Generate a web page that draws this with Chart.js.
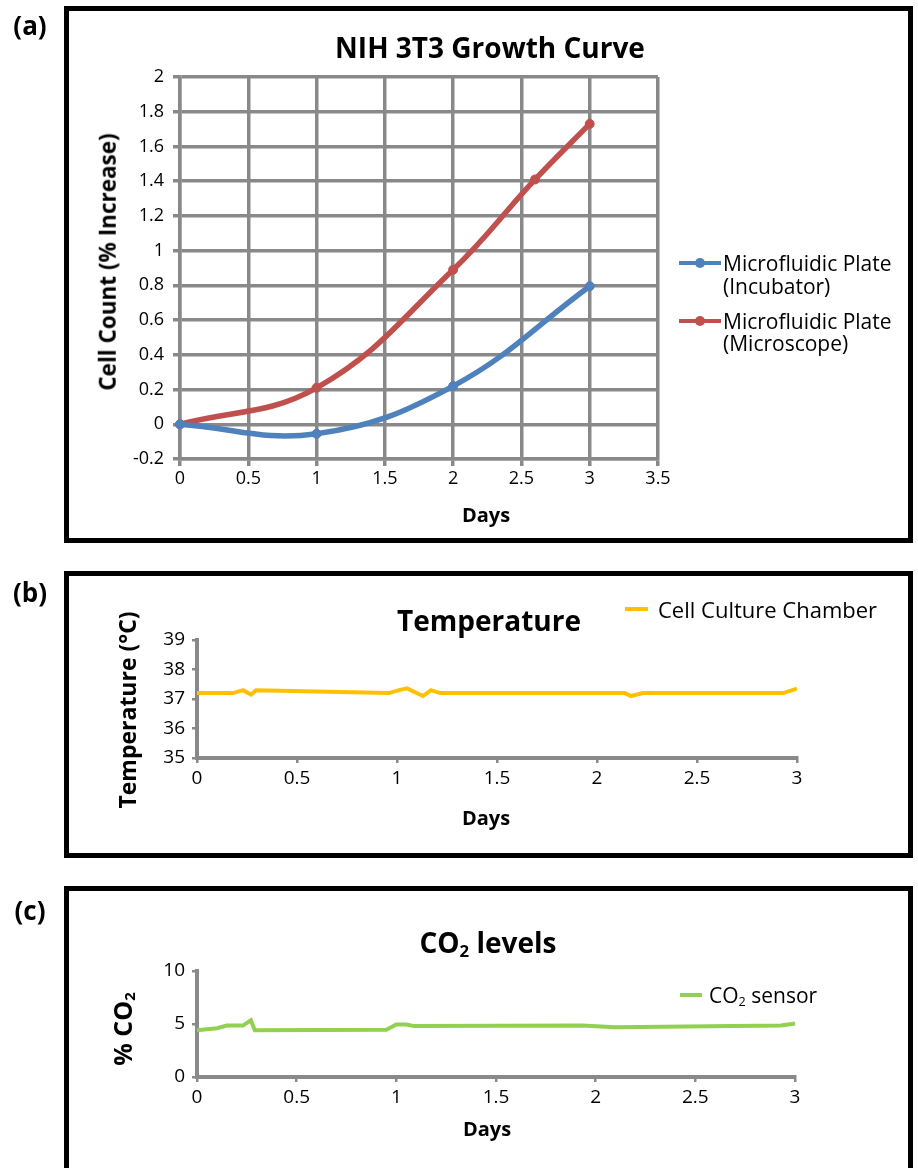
<!DOCTYPE html>
<html>
<head>
<meta charset="utf-8">
<script src="https://cdn.jsdelivr.net/npm/chart.js@4"></script>
<style>
  body { margin: 0; width: 918px; height: 1168px; overflow: hidden; background: #fff; font-family: 'Open Sans', sans-serif; color: #000; position: relative; }
  .box { position: absolute; border: 5px solid #000; box-sizing: border-box; }
  canvas { position: absolute; left: 0; }
  .txt { position: absolute; white-space: nowrap; line-height: 1; }
  .c { transform: translate(-50%, -50%); }
  .l { transform: translate(0, -50%); }
  .v { transform: translate(-50%, -50%) rotate(-90deg); }
  .b { font-weight: bold; }
  .sw { position: absolute; height: 4px; }
  .dot { position: absolute; width: 10px; height: 10px; border-radius: 50%; }
  sub { font-size: 0.6em; vertical-align: -0.25em; line-height: 0; }
</style>
</head>
<body>
<!-- panel frames -->
<div class="box" style="left:64px;top:6px;width:849px;height:537px"></div>
<div class="box" style="left:64px;top:571px;width:849px;height:287px"></div>
<div class="box" style="left:64px;top:886px;width:849px;height:300px"></div>

<canvas id="growth" width="918" height="545" style="top:0"></canvas>
<canvas id="temp" width="918" height="287" style="top:571px"></canvas>
<canvas id="co2" width="918" height="282" style="top:886px"></canvas>

<!-- (a) -->
<div class="txt c b" style="left:30px;top:25px;font-size:26px">(a)</div>
<div class="txt c b" style="left:490px;top:47px;font-size:28px">NIH 3T3 Growth Curve</div>
<div class="txt v b" style="left:108px;top:262px;font-size:22.5px">Cell Count (% Increase)</div>
<div class="txt c b" style="left:486px;top:515px;font-size:20px">Days</div>
<div class="sw" style="left:679px;top:261px;width:42px;background:#4F81BD"></div>
<div class="dot" style="left:695px;top:258px;background:#4F81BD"></div>
<div class="txt l" style="left:723px;top:263px;font-size:21px">Microfluidic Plate</div>
<div class="txt l" style="left:723px;top:286px;font-size:21px">(Incubator)</div>
<div class="sw" style="left:679px;top:319px;width:42px;background:#C0504D"></div>
<div class="dot" style="left:695px;top:316px;background:#C0504D"></div>
<div class="txt l" style="left:723px;top:321px;font-size:21px">Microfluidic Plate</div>
<div class="txt l" style="left:723px;top:343px;font-size:21px">(Microscope)</div>

<!-- (b) -->
<div class="txt c b" style="left:30px;top:592px;font-size:26px">(b)</div>
<div class="txt c b" style="left:489px;top:620px;font-size:28px">Temperature</div>
<div class="sw" style="left:625px;top:607px;width:23px;background:#FFC000"></div>
<div class="txt l" style="left:658px;top:609px;font-size:22px">Cell Culture Chamber</div>
<div class="txt v b" style="left:127px;top:710px;font-size:23px">Temperature (°C)</div>
<div class="txt c b" style="left:486px;top:818px;font-size:20px">Days</div>

<!-- (c) -->
<div class="txt c b" style="left:30px;top:910px;font-size:26px">(c)</div>
<div class="txt c b" style="left:488px;top:942px;font-size:28px">CO<sub>2</sub> levels</div>
<div class="sw" style="left:680px;top:993px;width:22px;background:#92D050"></div>
<div class="txt l" style="left:709px;top:995px;font-size:21px">CO<sub>2</sub> sensor</div>
<div class="txt v b" style="left:122px;top:1029px;font-size:25px">% CO<sub>2</sub></div>
<div class="txt c b" style="left:487px;top:1129px;font-size:20px">Days</div>

<script>
// (a) growth curve
const growthDaysIncubator = [0, 1, 2, 3];
const growthIncubator = [0, -0.055, 0.22, 0.795];
const growthDaysMicroscope = [0, 1, 2, 2.6, 3];
const growthMicroscope = [0, 0.21, 0.89, 1.41, 1.73];

// (b) temperature
const tempDays = [0, 0.18, 0.23, 0.27, 0.295, 0.96, 1.01, 1.05, 1.13, 1.17, 1.215, 2.14, 2.17, 2.23, 2.93, 3.0];
const tempValues = [37.2, 37.2, 37.3, 37.15, 37.3, 37.2, 37.3, 37.36, 37.1, 37.3, 37.2, 37.2, 37.1, 37.2, 37.2, 37.35];

// (c) CO2
const co2Days = [0, 0.1, 0.15, 0.23, 0.27, 0.29, 0.95, 1.0, 1.05, 1.09, 1.93, 2.1, 2.93, 3.0];
const co2Values = [4.4, 4.6, 4.85, 4.85, 5.35, 4.4, 4.45, 4.95, 4.95, 4.8, 4.85, 4.7, 4.85, 5.05];

const gridGray = '#898989';
const tickFont = { family: "'Open Sans', sans-serif", size: 18 };
const sensorTickFont = { family: "'Open Sans', sans-serif", size: 19 };

function pairs(xs, ys) {
    return xs.map((x, i) => ({ x: x, y: ys[i] }));
}

function trimTick(v) {
    return String(+v.toFixed(2));
}

const noPlugins = { legend: { display: false }, tooltip: { enabled: false } };

new Chart(document.getElementById('growth'), {
    type: 'line',
    data: {
        datasets: [
            {
                label: 'Microfluidic Plate (Incubator)',
                data: pairs(growthDaysIncubator, growthIncubator),
                borderColor: '#4F81BD', backgroundColor: '#4F81BD',
                borderWidth: 5.5, pointRadius: 4.5, pointBorderWidth: 1,
                tension: 0.4, clip: false
            },
            {
                label: 'Microfluidic Plate (Microscope)',
                data: pairs(growthDaysMicroscope, growthMicroscope),
                borderColor: '#C0504D', backgroundColor: '#C0504D',
                borderWidth: 5.5, pointRadius: 4.5, pointBorderWidth: 1,
                tension: 0.4, clip: false
            }
        ]
    },
    options: {
        responsive: false,
        animation: false,
        layout: { padding: { left: 100, top: 77, right: 260, bottom: 46 } },
        plugins: noPlugins,
        scales: {
            x: {
                type: 'linear', min: 0, max: 3.5,
                afterFit: s => { s.height = 40; },
                ticks: { stepSize: 0.5, callback: trimTick, color: '#000', font: tickFont, padding: 2, maxRotation: 0 },
                grid: { color: gridGray, lineWidth: 3.5, tickLength: 7 },
                border: { color: gridGray, width: 3.5 }
            },
            y: {
                min: -0.2, max: 2,
                afterFit: s => { s.width = 80; },
                ticks: { stepSize: 0.2, callback: trimTick, color: '#000', font: tickFont, padding: 9 },
                grid: { color: gridGray, lineWidth: 3.5, tickLength: 7 },
                border: { color: gridGray, width: 3.5 }
            }
        }
    }
});

function sensorChart(id, days, values, color, yMin, yMax, yStep, pad, label) {
    const axisGrid = { drawOnChartArea: false, color: gridGray, lineWidth: 2.5, tickLength: 5 };
    return new Chart(document.getElementById(id), {
        type: 'line',
        data: {
            datasets: [{
                label: label,
                data: pairs(days, values),
                borderColor: color, backgroundColor: color,
                borderWidth: 4, pointRadius: 0, tension: 0, clip: false
            }]
        },
        options: {
            responsive: false,
            animation: false,
            layout: { padding: pad },
            plugins: noPlugins,
            scales: {
                x: {
                    type: 'linear', min: 0, max: 3,
                    afterFit: s => { s.height = 40; },
                    ticks: { stepSize: 0.5, callback: trimTick, color: '#000', font: sensorTickFont, padding: 4, maxRotation: 0 },
                    grid: axisGrid,
                    border: { color: gridGray, width: 4 }
                },
                y: {
                    min: yMin, max: yMax,
                    afterFit: s => { s.width = 57; },
                    ticks: { stepSize: yStep, color: '#000', font: sensorTickFont, padding: 7 },
                    grid: axisGrid,
                    border: { color: gridGray, width: 4 }
                }
            }
        }
    });
}

sensorChart('temp', tempDays, tempValues, '#FFC000', 35, 39, 1,
    { left: 140, top: 69, right: 121, bottom: 60 }, 'Cell Culture Chamber');
sensorChart('co2', co2Days, co2Values, '#92D050', 0, 10, 5,
    { left: 140, top: 85, right: 123, bottom: 51 }, 'CO2 sensor');
</script>
</body>
</html>
